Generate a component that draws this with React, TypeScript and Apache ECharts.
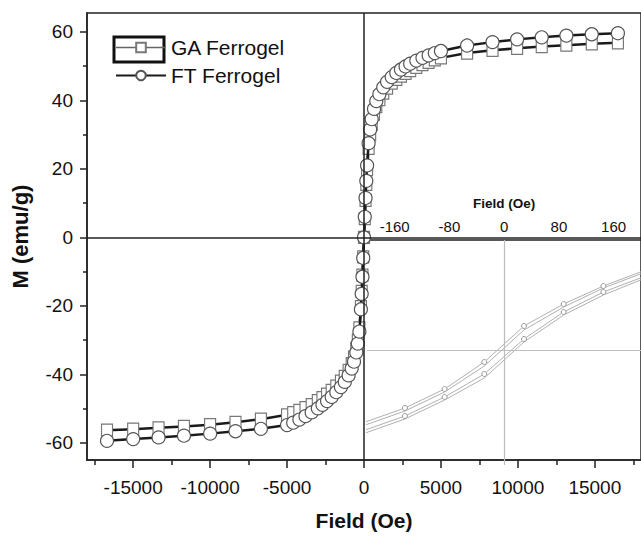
import React, { useEffect, useRef } from "react";
import * as echarts from "echarts";

// Main hysteresis loop (Field in Oe, M in emu/g)
const fieldH = [
  -16700, -15000, -13350, -11700, -10000, -8350, -6700, -5000,
  -4600, -4200, -3800, -3400, -3000, -2700, -2400, -2100, -1800, -1500,
  -1250, -1000, -800, -650, -500, -400, -300, -200, -150, -100, -50,
  0,
  50, 100, 150, 200, 300, 400, 500, 650, 800, 1000,
  1250, 1500, 1800, 2100, 2400, 2700, 3000, 3400, 3800, 4200,
  4600, 5000, 6700, 8350, 9950, 11550, 13150, 14800, 16500,
];
const magGA = [
  -56.3, -56.0, -55.6, -55.2, -54.7, -54.0, -53.1, -51.8,
  -51.2, -50.5, -49.7, -48.8, -47.7, -46.8, -45.8, -44.7, -43.4, -42.0,
  -40.6, -38.8, -36.9, -35.0, -32.4, -30.0, -26.4, -20.2, -15.8, -11.0, -5.7,
  0,
  5.5, 10.8, 15.5, 19.8, 26.0, 30.0, 33.0, 36.0, 38.2, 40.2,
  42.1, 43.6, 45.0, 46.1, 47.1, 47.9, 48.7, 49.6, 50.4, 51.1,
  51.8, 52.4, 53.8, 54.6, 55.2, 55.7, 56.1, 56.5, 56.8,
];
const magFT = [
  -59.4, -58.9, -58.4, -57.9, -57.3, -56.6, -55.9, -54.8,
  -54.1, -53.2, -52.2, -51.1, -49.9, -48.9, -47.8, -46.6, -45.2, -43.7,
  -42.2, -40.3, -38.3, -36.3, -33.6, -31.0, -27.5, -21.0, -16.5, -11.5, -6.0,
  0,
  6.0, 11.5, 16.5, 21.0, 27.5, 31.5, 34.5, 37.5, 39.8, 41.8,
  43.8, 45.4, 46.8, 48.0, 49.0, 49.9, 50.7, 51.6, 52.4, 53.1,
  53.8, 54.4, 56.0, 57.0, 57.8, 58.4, 58.9, 59.3, 59.6,
];

// Inset (low-field region)
const insetField = [-203, -145, -87, -29, 29, 87, 145, 203];
const insetUpperA = [-7.2, -5.8, -3.9, -1.2, 2.4, 4.6, 6.4, 7.9];
const insetUpperB = [-7.5, -6.1, -4.2, -1.6, 2.0, 4.3, 6.2, 7.7];
const insetLowerA = [-8.0, -6.6, -4.7, -2.4, 1.1, 3.8, 5.8, 7.3];
const insetLowerB = [-8.3, -6.9, -5.0, -2.8, 0.8, 3.5, 5.5, 7.1];

const xMajorTicks = [-15000, -10000, -5000, 0, 5000, 10000, 15000];
const xMinorTicks = [-17500, -12500, -7500, -2500, 2500, 7500, 12500, 17500];
const yMajorTicks = [-60, -40, -20, 0, 20, 40, 60];
const yMinorTicks = [-50, -30, -10, 10, 30, 50];
const insetTicks = [-160, -80, 0, 80, 160];

const FONT = "'Liberation Sans', Arial, sans-serif";

export default function App() {
  const ref = useRef<HTMLDivElement>(null);
  useEffect(() => {
    if (!ref.current) return;
    const chart = echarts.init(ref.current, null, { renderer: "svg" });
    const pair = (xs: number[], ys: number[]) => xs.map((x, i) => [x, ys[i]]);
    const plain = (v: number) => String(v);
    const insetSeries = (ys: number[], withSymbols: boolean) => ({
      type: "line",
      xAxisIndex: 2,
      yAxisIndex: 2,
      data: pair(insetField, ys),
      symbol: withSymbols ? "circle" : "none",
      symbolSize: 5,
      lineStyle: { color: "#b0b0b0", width: 1 },
      itemStyle: { color: "#fff", borderColor: "#999", borderWidth: 1 },
      silent: true,
      z: 1,
    });
    chart.setOption({
      animation: false,
      backgroundColor: "#fff",
      textStyle: { fontFamily: FONT },
      grid: [
        {
          left: 87,
          top: 13,
          width: 560.5,
          bottom: 71,
          show: true,
          borderColor: "#222",
          borderWidth: 1.5,
        },
        { left: 367.3, top: 240, width: 282.5, height: 225 },
      ],
      legend: {
        left: 115,
        top: 37,
        orient: "vertical",
        itemWidth: 50,
        itemHeight: 12,
        itemGap: 7,
        padding: 0,
        textStyle: { fontSize: 21, color: "#111", fontFamily: FONT },
        data: [
          { name: "GA Ferrogel", lineStyle: { width: 1.5, color: "#666" } },
          { name: "FT Ferrogel" },
        ],
      },
      graphic: [
        {
          type: "rect",
          shape: { x: 114, y: 37, width: 50, height: 25 },
          style: { fill: "none", stroke: "#111", lineWidth: 3 },
          silent: true,
        },
      ],
      xAxis: [
        {
          type: "value",
          gridIndex: 0,
          position: "bottom",
          min: -18000,
          max: 18000,
          axisLine: { show: true, onZero: false, lineStyle: { color: "#222", width: 1.5 } },
          axisTick: { show: true, length: 8, customValues: xMajorTicks, lineStyle: { color: "#222", width: 1.5 } },
          axisLabel: { customValues: xMajorTicks, formatter: plain, fontSize: 19, color: "#111", margin: 18, fontFamily: FONT },
          splitLine: { show: false },
          name: "Field (Oe)",
          nameLocation: "middle",
          nameGap: 50,
          nameTextStyle: { fontSize: 21, fontWeight: "bold", color: "#111", fontFamily: FONT },
        },
        {
          type: "value",
          gridIndex: 0,
          position: "bottom",
          min: -18000,
          max: 18000,
          axisLine: { show: false, onZero: false },
          axisTick: { show: true, length: 5, customValues: xMinorTicks, lineStyle: { color: "#222", width: 1.5 } },
          axisLabel: { show: false },
          splitLine: { show: false },
        },
        {
          type: "value",
          gridIndex: 1,
          position: "top",
          min: -200,
          max: 200,
          axisLine: { show: true, onZero: false, lineStyle: { color: "#222", width: 1.5 } },
          axisTick: { show: false },
          axisLabel: { customValues: insetTicks, formatter: plain, fontSize: 15, color: "#111", margin: 6, fontFamily: FONT },
          splitLine: { show: false },
          name: "Field (Oe)",
          nameLocation: "middle",
          nameGap: 30,
          nameTextStyle: { fontSize: 13.5, fontWeight: "bold", color: "#111", fontFamily: FONT },
        },
      ],
      yAxis: [
        {
          type: "value",
          gridIndex: 0,
          min: -65,
          max: 65.5,
          axisLine: { show: true, onZero: false, lineStyle: { color: "#222", width: 1.5 } },
          axisTick: { show: true, length: 7, customValues: yMajorTicks, lineStyle: { color: "#222", width: 1.5 } },
          axisLabel: { customValues: yMajorTicks, formatter: plain, fontSize: 19, color: "#111", margin: 14, fontFamily: FONT },
          splitLine: { show: false },
          name: "M (emu/g)",
          nameLocation: "middle",
          nameGap: 56,
          nameTextStyle: { fontSize: 22, fontWeight: "bold", color: "#111", fontFamily: FONT },
        },
        {
          type: "value",
          gridIndex: 0,
          position: "left",
          min: -65,
          max: 65.5,
          axisLine: { show: false, onZero: false },
          axisTick: { show: true, length: 4, customValues: yMinorTicks, lineStyle: { color: "#222", width: 1.5 } },
          axisLabel: { show: false },
          splitLine: { show: false },
        },
        {
          type: "value",
          gridIndex: 1,
          min: -11.5,
          max: 11,
          show: false,
        },
      ],
      series: [
        {
          ...insetSeries(insetUpperA, true),
          markLine: {
            silent: true,
            symbol: ["none", "none"],
            label: { show: false },
            lineStyle: { color: "#bdbdbd", width: 1.2, type: "solid" },
            data: [{ xAxis: 0 }, { yAxis: 0 }],
          },
        },
        insetSeries(insetUpperB, false),
        insetSeries(insetLowerA, true),
        insetSeries(insetLowerB, false),
        {
          name: "GA Ferrogel",
          type: "line",
          xAxisIndex: 0,
          yAxisIndex: 0,
          data: pair(fieldH, magGA),
          symbol: "rect",
          symbolSize: [11, 12],
          lineStyle: { color: "#1a1a1a", width: 2.5 },
          itemStyle: { color: "#fff", borderColor: "#777", borderWidth: 1.2 },
          z: 3,
          markLine: {
            silent: true,
            symbol: ["none", "none"],
            label: { show: false },
            lineStyle: { color: "#222", width: 1.5, type: "solid" },
            data: [{ xAxis: 0 }, { yAxis: 0 }],
          },
        },
        {
          name: "FT Ferrogel",
          type: "line",
          xAxisIndex: 0,
          yAxisIndex: 0,
          data: pair(fieldH, magFT),
          symbol: "circle",
          symbolSize: 13,
          lineStyle: { color: "#1a1a1a", width: 2.5 },
          itemStyle: { color: "#fff", borderColor: "#555", borderWidth: 1.2 },
          z: 4,
        },
      ],
    });
    return () => chart.dispose();
  }, []);
  return (
    <div
      ref={ref}
      style={{ position: "fixed", left: 0, top: 0, width: 641, height: 536, background: "#fff" }}
    />
  );
}
